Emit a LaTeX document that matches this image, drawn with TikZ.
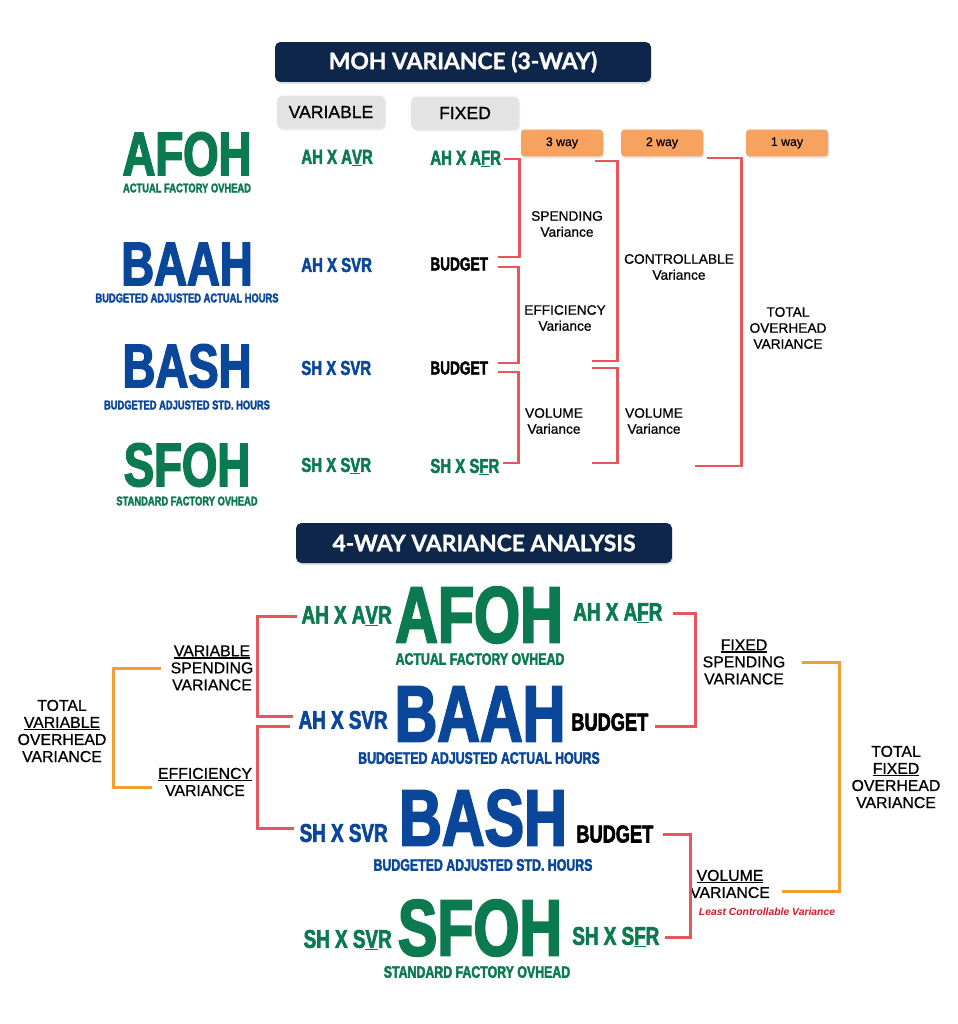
\documentclass[tikz,border=0pt]{standalone}
\usepackage{fontspec}
\setmainfont{Liberation Sans}
\newfontfamily\impact[FakeStretch=0.74,FakeBold=2.4]{Liberation Sans Bold}
\newfontfamily\titlefont[FakeBold=1.2]{Lato}
\newfontfamily\labelfont[FakeBold=0.7]{Liberation Sans}
\newcommand{\thickul}[1]{\setbox0\hbox{#1}\rlap{\rule[-1.3pt]{\wd0}{0.8pt}}\box0}
\usetikzlibrary{positioning,shadows}
\definecolor{navyblue}{HTML}{0E264A}
\definecolor{ohgreen}{HTML}{0B7A50}
\definecolor{ohblue}{HTML}{0A479A}
\definecolor{brkred}{HTML}{E8565C}
\definecolor{brkorange}{HTML}{F0A032}
\definecolor{wayorange}{HTML}{F7A25E}
\definecolor{boxgray}{HTML}{E3E3E3}
\definecolor{lcvred}{HTML}{C8202A}
\tikzset{
  titlebox/.style={fill=navyblue, rounded corners=3pt, text=white, font=\titlefont\bfseries\fontsize{13}{14}\selectfont, minimum width=7.52cm, minimum height=0.8cm, drop shadow={opacity=0.25, shadow xshift=0.6pt, shadow yshift=-1pt}},
  headbox/.style={fill=boxgray, rounded corners=3pt, font=\labelfont\fontsize{10}{12}\selectfont, minimum width=2.16cm, minimum height=0.66cm, drop shadow={opacity=0.15, shadow xshift=0.6pt, shadow yshift=-1pt}},
  waybox/.style={fill=wayorange, rounded corners=2pt, font=\labelfont\fontsize{7}{8}\selectfont, minimum width=1.64cm, minimum height=0.54cm, drop shadow={opacity=0.2, shadow xshift=0.6pt, shadow yshift=-1pt}},
  bigname/.style={font=\impact\fontsize{35}{35}\selectfont, inner sep=0pt},
  bignameb/.style={font=\impact\fontsize{45.5}{45.5}\selectfont, inner sep=0pt},
  subname/.style={font=\impact\fontsize{7.2}{8}\selectfont, inner sep=0pt},
  subnameb/.style={font=\impact\fontsize{9.5}{10}\selectfont, inner sep=0pt},
  rate/.style={font=\impact\fontsize{11.5}{12}\selectfont, inner sep=0pt},
  rateb/.style={font=\impact\fontsize{14.5}{15}\selectfont, inner sep=0pt},
  budget/.style={font=\impact\fontsize{10.5}{12}\selectfont, inner sep=0pt},
  budgetb/.style={font=\impact\fontsize{14}{15}\selectfont, inner sep=0pt},
  varlabel/.style={font=\labelfont\fontsize{7.8}{9.1}\selectfont, align=center, inner sep=0pt},
  varlabelb/.style={font=\labelfont\fontsize{9}{9.7}\selectfont, align=center, inner sep=0pt},
  redline/.style={draw=brkred, line width=1.7pt},
  orangeline/.style={draw=brkorange, line width=1.7pt}
}

\begin{document}
\begin{tikzpicture}[x=0.02cm, y=-0.02cm]
  \useasboundingbox (0,0) rectangle (957,1024);
  \fill[white] (0,0) rectangle (957,1024);

  % 3-way table
  \node[titlebox] (title3) at (463,62) {MOH VARIANCE (3-WAY)};
  \node[headbox] (varhead) at (331,112) {VARIABLE};
  \node[headbox] (fixhead) at (465,113) {FIXED};
  \node[waybox] (way3) at (562,143) {3 way};
  \node[waybox] (way2) at (662,143) {2 way};
  \node[waybox] (way1) at (787,143) {1 way};

  \node[bigname, text=ohgreen] (afoh) at (187,154) {AFOH};
  \node[subname, text=ohgreen] (afohsub) at (187,188) {ACTUAL FACTORY OVHEAD};
  \node[bigname, text=ohblue] (baah) at (187,264) {BAAH};
  \node[subname, text=ohblue] (baahsub) at (187,298) {BUDGETED ADJUSTED ACTUAL HOURS};
  \node[bigname, text=ohblue] (bash) at (187,366) {BASH};
  \node[subname, text=ohblue] (bashsub) at (187,405) {BUDGETED ADJUSTED STD. HOURS};
  \node[bigname, text=ohgreen] (sfoh) at (187,465) {SFOH};
  \node[subname, text=ohgreen] (sfohsub) at (187,501) {STANDARD FACTORY OVHEAD};

  \node[rate, text=ohgreen, anchor=west] (avr1) at (301,158) {AH X A\thickul{V}R};
  \node[rate, text=ohblue, anchor=west] (svr1) at (301,265) {AH X SVR};
  \node[rate, text=ohblue, anchor=west] (svr2) at (301,368) {SH X SVR};
  \node[rate, text=ohgreen, anchor=west] (svr3) at (301,466) {SH X S\thickul{V}R};
  \node[rate, text=ohgreen, anchor=west] (afr1) at (430,159) {AH X A\thickul{F}R};
  \node[budget, anchor=west] (bud1) at (430,264) {BUDGET};
  \node[budget, anchor=west] (bud2) at (430,368) {BUDGET};
  \node[rate, text=ohgreen, anchor=west] (sfr1) at (430,467) {SH X S\thickul{F}R};

  \node[varlabel] (spend) at (567,224) {SPENDING\\Variance};
  \node[varlabel] (effic) at (565,318) {EFFICIENCY\\Variance};
  \node[varlabel] (vol3) at (554,421) {VOLUME\\Variance};
  \node[varlabel] (ctrl) at (679,267) {CONTROLLABLE\\Variance};
  \node[varlabel] (vol2) at (654,421) {VOLUME\\Variance};
  \node[varlabel] (tot1) at (788,328) {TOTAL\\OVERHEAD\\VARIANCE};

  \draw[redline] ([xshift=0.06cm]afr1.east) -- ++(15,0) |- ([xshift=0.2cm,yshift=0.14cm]bud1.east);
  \draw[redline] ([xshift=0.2cm,yshift=-0.06cm]bud1.east) -- ++(20,0) |- ([xshift=0.2cm,yshift=0.1cm]bud2.east);
  \draw[redline] ([xshift=0.2cm,yshift=-0.08cm]bud2.east) -- ++(20,0) |- ([xshift=0.06cm,yshift=0.08cm]sfr1.east);
  \coordinate (ctla) at (595,161);
  \coordinate (ctlb) at (592,361);
  \coordinate (vola) at (592,368);
  \coordinate (volb) at (592,463);
  \coordinate (tota) at (707,158);
  \coordinate (totb) at (695,466);
  \draw[redline] (ctla) -- ++(22,0) |- (ctlb);
  \draw[redline] (vola) -- ++(25,0) |- (volb);
  \draw[redline] (tota) -- ++(34,0) |- (totb);

  % 4-way analysis
  \node[titlebox] (title4) at (484,543) {4-WAY VARIANCE ANALYSIS};

  \node[bignameb, text=ohgreen] (afohb) at (479,615) {AFOH};
  \node[subnameb, text=ohgreen] (afohbsub) at (480,659) {ACTUAL FACTORY OVHEAD};
  \node[bignameb, text=ohblue] (baahb) at (480,714) {BAAH};
  \node[subnameb, text=ohblue] (baahbsub) at (479,758) {BUDGETED ADJUSTED ACTUAL HOURS};
  \node[bignameb, text=ohblue] (bashb) at (483,818) {BASH};
  \node[subnameb, text=ohblue] (bashbsub) at (483,865) {BUDGETED ADJUSTED STD. HOURS};
  \node[bignameb, text=ohgreen] (sfohb) at (480,928) {SFOH};
  \node[subnameb, text=ohgreen] (sfohbsub) at (477,972) {STANDARD FACTORY OVHEAD};

  \node[rateb, text=ohgreen, anchor=east] (avr4) at (392,616) {AH X A\thickul{V}R};
  \node[rateb, text=ohblue, anchor=east] (svr4) at (388,720) {AH X SVR};
  \node[rateb, text=ohblue, anchor=east] (svr5) at (388,833) {SH X SVR};
  \node[rateb, text=ohgreen, anchor=east] (svr6) at (392,940) {SH X S\thickul{V}R};
  \node[rateb, text=ohgreen, anchor=west] (afr4) at (573,613) {AH X A\thickul{F}R};
  \node[budgetb, anchor=west] (bud4) at (571,722) {BUDGET};
  \node[budgetb, anchor=west] (bud5) at (576,834) {BUDGET};
  \node[rateb, text=ohgreen, anchor=west] (sfr4) at (572,937) {SH X S\thickul{F}R};

  \node[varlabelb] (varsp) at (212,668) {\thickul{VARIABLE}\\SPENDING\\VARIANCE};
  \node[varlabelb] (effv) at (205,782) {\thickul{EFFICIENCY}\\VARIANCE};
  \node[varlabelb] (totv) at (62,731) {TOTAL\\\thickul{VARIABLE}\\OVERHEAD\\VARIANCE};
  \node[varlabelb] (fixsp) at (744,662) {\thickul{FIXED}\\SPENDING\\VARIANCE};
  \node[varlabelb] (volv) at (730,884) {\thickul{VOLUME}\\VARIANCE};
  \node[font=\bfseries\itshape\fontsize{5.9}{7}\selectfont, text=lcvred, inner sep=0pt] (lcv) at (767,912) {Least Controllable Variance};
  \node[varlabelb] (totf) at (896,777) {TOTAL\\\thickul{FIXED}\\OVERHEAD\\VARIANCE};

  \draw[redline] ([xshift=-0.08cm]avr4.west) -- ++(-40,0) |- ([xshift=-0.1cm,yshift=0.08cm]svr4.west);
  \draw[redline] ([xshift=-0.16cm,yshift=-0.12cm]svr4.west) -- ++(-33,0) |- ([xshift=-0.1cm,yshift=0.1cm]svr5.west);
  \draw[orangeline] ([xshift=-0.18cm]varsp.west) -- ++(-48,0) |- ([xshift=-0.12cm,yshift=-0.1cm]effv.west);
  \draw[redline] ([xshift=0.2cm]afr4.east) -- ++(23,0) |- ([xshift=0.12cm,yshift=-0.08cm]bud4.east);
  \draw[redline] ([xshift=0.18cm]bud5.east) -- ++(28,0) |- ([xshift=0.1cm]sfr4.east);
  \draw[orangeline] ([xshift=0.32cm]fixsp.east) -- ++(38,0) |- ([xshift=0.24cm,yshift=-0.14cm]volv.east);
\end{tikzpicture}
\end{document}
